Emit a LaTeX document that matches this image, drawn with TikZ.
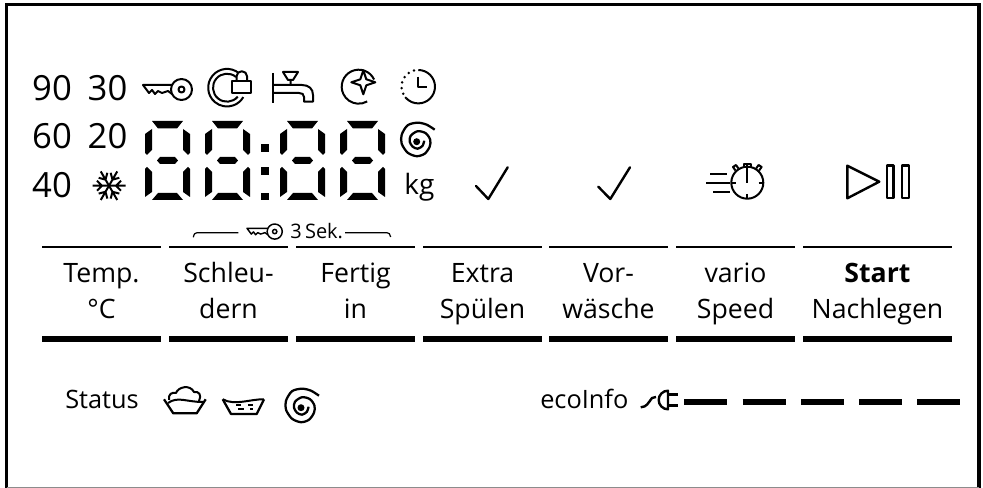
\documentclass[tikz,border=0pt]{standalone}
\usepackage{fontspec}
\setmainfont{Open Sans}
\usetikzlibrary{positioning,calc}

\begin{document}
\begin{tikzpicture}[x=0.75pt,y=-0.75pt,
		iconLine/.style={line width=1.5pt,line join=round},
		thinBar/.style={line width=1.5pt},
		thickBar/.style={line width=4.7pt},
		ecoBar/.style={line width=4.5pt},
		bigText/.style={anchor=base,inner sep=0pt,font=\fontsize{26}{30}\selectfont},
		btnLabel/.style={anchor=base,inner sep=0pt,font=\fontsize{20}{24}\selectfont},
		stateLabel/.style={anchor=base west,inner sep=0pt,font=\fontsize{19}{23}\selectfont},
		segDigit/.pic={
				\fill (7,0)--(38,0)--(32,7.5)--(13,7.5)--cycle;
				\fill (0,13)--(7,8)--(7,29)--(2,34)--(0,32)--cycle;
				\fill (45,13)--(38,8)--(38,29)--(43,34)--(45,32)--cycle;
				\fill (12,39.5)--(15,36)--(30,36)--(33,39.5)--(30,43)--(15,43)--cycle;
				\fill (0,48)--(2,46)--(7,51)--(7,71)--(0,76)--cycle;
				\fill (45,48)--(43,46)--(38,51)--(38,71)--(45,76)--cycle;
				\fill (13,72)--(32,72)--(38,79)--(7,79)--cycle;
			},
		keyIcon/.pic={
				\draw[iconLine] (29,6)--(0,6)--(6,14)--(9,11)--(12,15)--(15,12)--(19,14)--(25,12)--(29,15);
				\draw[iconLine,fill=white] (38.5,10.5) circle (10.5);
				\draw[iconLine] (38.5,10.5) circle (3);
			},
		spiralIcon/.pic={
				\draw[iconLine,line width=1.7pt] plot[smooth] coordinates {(18,-11) (10,-16) (1,-18) (-9,-15.5) (-15,-6) (-15,3) (-9,12) (0,15.5) (8,13) (13,6) (13.5,-1) (9,-7.5) (1,-9.5) (-6,-5) (-7,1) (-4,6) (1,8) (6,5) (7.5,0)};
				\fill (0,1) circle (3.5);
			}]
	\useasboundingbox (0,0) rectangle (983,488);
	% panel frame
	\draw[line width=2.4pt] (6.5,488)--(6.5,4.5)--(979,4.5)--(979,488);
	\draw[black!45,line width=0.6pt] (6.5,487.6)--(979,487.6);

	% temperatures
	\node[bigText] (t90) at (52,101) {90};
	\node[bigText] (t30) at (107.5,101) {30};
	\node[bigText] (t60) at (52,149) {60};
	\node[bigText] (t20) at (107.5,149) {20};
	\node[bigText] (t40) at (52,198) {40};
	\node[anchor=base,inner sep=0pt,font=\fontsize{21}{24}\selectfont] (kgUnit) at (419.5,195) {kg};

	% snow flake
	\foreach \ang in {0,60,...,300}
	\draw[iconLine,shift={(109,185.7)},rotate=\ang] (0,0)--(16.5,0) (7,0)--(12,-5) (7,0)--(12,5);

	% time display
	\foreach \xd in {145,205,280,340}
	\pic at (\xd,121) {segDigit};
	\fill (261,144) rectangle (269,152);
	\fill (261,167) rectangle (269,175);
	\fill (261,193) rectangle (269,200);

	% top row of icons
	\pic at (143,79) {keyIcon};
	\draw[iconLine] ([shift={(-50:18.8)}]227,87.7) arc (-50:-330:18.8);
	\draw[iconLine] ([shift={(-50:14)}]227,87.7) arc (-50:-320:14);
	\draw[iconLine,fill=white] (236.5,82)--(236.5,76.5) arc (180:360:5.3)--(247.1,82);
	\draw[iconLine,fill=white] (232.3,81.5) rectangle (250.7,93.5);

	\draw[iconLine] (273,73)--(273,103);
	\draw[iconLine] (273,85)--(302,85) .. controls (309,85) and (313,89) .. (313,95)--(313,101.7)--(304,101.7)--(304,97) .. controls (304,94) and (302,93) .. (299,93)--(273,93);
	\draw[iconLine] (283,72)--(298,72)--(293,80)--(288,80)--cycle (290.5,80)--(290.5,85);

	\draw[iconLine] ([shift={(-25:17)}]358.7,86.7) arc (-25:-300:17);
	\draw[iconLine,fill=white] (363.3,70.3)--(366.3,79.3)--(375.3,82.3)--(366.3,85.3)--(363.3,94.3)--(360.3,85.3)--(351.3,82.3)--(360.3,79.3)--cycle;

	\draw[iconLine] (418.3,70) arc (-90:135:16.7);
	\foreach \ang in {-105,-125,-145,-165,-185,-205,-222}
	\fill ([shift={(\ang:16.7)}]418.3,86.7) circle (1.4);
	\draw[iconLine] (418.3,76.7)--(418.3,87.3)--(427,87.3);

	\pic at (416.7,140.7) {spiralIcon};

	% button icons
	\draw[iconLine,line width=1.8pt,line cap=round] (476,186)--(488.3,199)--(507.7,167.3);
	\draw[iconLine,line width=1.8pt,line cap=round] (598.3,186.7)--(610.3,199)--(630,167.3);

	\draw[iconLine] (710,174.3)--(726.7,174.3) (706,182.7)--(730,182.7) (713,191.7)--(730,191.7);
	\draw[iconLine] (747.3,182.7) circle (16);
	\draw[iconLine] (747.3,165)--(747.3,183) (731.3,182.7)--(736,182.7) (758.6,182.7)--(763.3,182.7) (747.3,194)--(747.3,198.7);
	\draw[iconLine] (744,164) rectangle (750.7,167.3);
	\draw[iconLine] (735.5,170.5)--(733,167)--(736,165)--(738.5,168.5) (759.1,170.5)--(761.6,167)--(758.6,165)--(756.1,168.5);

	\draw[iconLine,line width=1.8pt] (847.3,165.7)--(879.3,181.7)--(847.3,198.3)--cycle;
	\draw[iconLine,line width=1.8pt] (886.7,165.7) rectangle (893.3,198.3);
	\draw[iconLine,line width=1.8pt] (901.7,165.7) rectangle (909,198.3);

	% lock hint
	\draw[line width=0.9pt] (193.3,237.3) .. controls (194,234) and (195,232.7) .. (197,232.7)--(238.3,232.7);
	\draw[line width=0.9pt] (345,232.7)--(387,232.7) .. controls (389,232.7) and (390,234) .. (390.7,237);
	\begin{scope}[iconLine/.style={line width=1.1pt,line join=round}]
		\pic[scale=0.72] at (247,224) {keyIcon};
	\end{scope}
	\node[anchor=base west,inner sep=0pt,font=\fontsize{15}{17}\selectfont] (secHint) at (290,239) {3\,Sek.};

	% keys
	\foreach \xa/\xb in {42/161,169/288,296/415,423/542,549/668,676/795,803/952}
	\draw[thinBar] (\xa,247)--(\xb,247);
	\foreach \xa/\xb in {42/161,169/288,296/415,423/542,549/668,676/795,803/952}
	\draw[thickBar] (\xa,339)--(\xb,339);

	\foreach \cx/\nm/\upper/\lower in {101.5/temp/Temp./°C,228.5/spin/Schleu-/dern,355.5/done/Fertig/in,482.5/extra/Extra/Spülen,608.5/pre/Vor-/wäsche,735.5/vario/vario/Speed,877.5/start/\textbf{Start}/Nachlegen}{
			\node[btnLabel] (\nm Top) at (\cx,283) {\upper};
			\node[btnLabel] (\nm Bot) at (\cx,319) {\lower};
		}

	% status row
	\node[stateLabel] (statusText) at (65,409) {Status};
	\draw[iconLine,line width=1.7pt] (164,399.3)--(173.3,413.3)--(196.7,413.3)--(205.7,399.3);
	\draw[iconLine] (168,403) .. controls (178,396) and (186,402) .. (203,402);
	\draw[iconLine] (169,400) .. controls (168,394) and (172,392) .. (176,393) .. controls (178,387) and (190,384) .. (194,392) .. controls (199,391) and (202,395) .. (199,401);

	\draw[iconLine,line width=1.7pt] (222.7,399.3)--(231,414)--(256.7,414)--(264,399.3);
	\draw[iconLine] (222.7,399.3) .. controls (235,406) and (250,399) .. (264,399.3);
	\draw[iconLine] (236,405)--(241,405) (248,405)--(253,405) (238,409)--(244,409) (250,409)--(253,409);

	\pic at (301,406.7) {spiralIcon};

	\node[stateLabel] (ecoText) at (540,409) {ecoInfo};
	\draw[iconLine,line width=1.8pt] (640.7,407.3) .. controls (647,407) and (648,403) .. (652,398)--(656,397);
	\draw[iconLine,line width=1.8pt] (668,390.7) arc (-90:-270:9.3) -- cycle;
	\draw[iconLine,line width=1.8pt] (668,394.5)--(678,394.5) (668,405.5)--(678,405.5);
	\foreach \xa/\xb in {684.3/726.7,742.7/786,801/844,859/902,917/960}
	\draw[ecoBar] (\xa,402.3)--(\xb,402.3);
\end{tikzpicture}
\end{document}
